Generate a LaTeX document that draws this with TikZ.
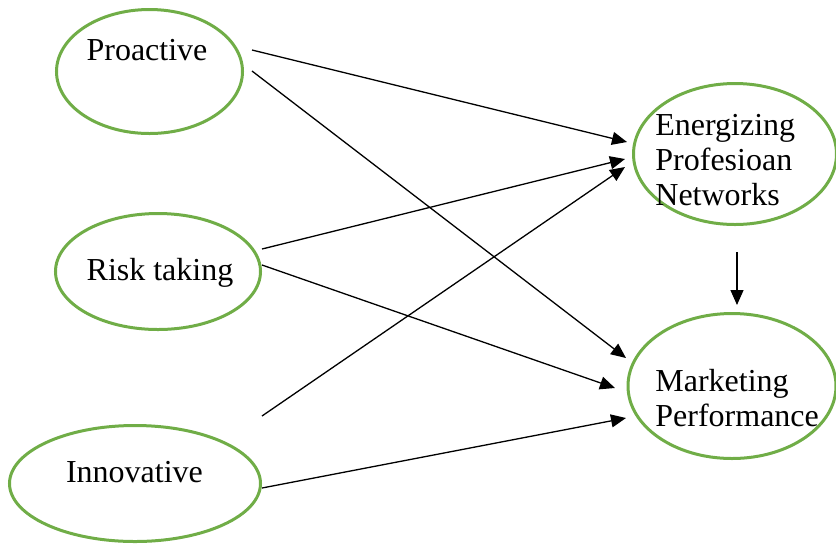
\documentclass[tikz,border=0pt]{standalone}
\usepackage{fontspec}
\setmainfont{Liberation Serif}
\usetikzlibrary{shapes.geometric}
\usetikzlibrary{arrows.meta}
\definecolor{ovalgreen}{RGB}{112,173,71}

\begin{document}
\begin{tikzpicture}[x=0.5pt,y=-0.5pt,
	oval/.style={draw=ovalgreen,line width=1.5pt,ellipse,inner sep=0pt},
	lbl/.style={inner sep=0pt,font=\fontsize{16}{17.5}\selectfont},
	link/.style={line width=0.65pt,-{Triangle[length=7.5pt,width=6.5pt]}}]
	\useasboundingbox (0,0) rectangle (836,543);
	\node[oval,minimum width=93pt,minimum height=62pt] (proactive) at (149.5,71.5) {};
	\node[oval,minimum width=102.5pt,minimum height=58pt] (risk) at (158,271.5) {};
	\node[oval,minimum width=125.5pt,minimum height=58pt] (innov) at (135,483.5) {};
	\node[oval,minimum width=101.5pt,minimum height=70.5pt] (energ) at (735,154) {};
	\node[oval,minimum width=104pt,minimum height=72.5pt] (mkt) at (732,386) {};
	\node[lbl,anchor=base] (proactivetxt) at (147,60) {Proactive};
	\node[lbl,anchor=base] (risktxt) at (160,280) {Risk taking};
	\node[lbl,anchor=base] (innovtxt) at (134.5,482) {Innovative};
	\node[lbl,anchor=base west,align=left] (energtxt) at (655,205) {Energizing\\Profesioan\\Networks};
	\node[lbl,anchor=base west,align=left] (mkttxt) at (655,426) {Marketing\\Performance};
	\coordinate (pa) at (252,50);
	\coordinate (pb) at (252,71);
	\coordinate (ra) at (262,249);
	\coordinate (rb) at (262,265);
	\coordinate (ia) at (262,416);
	\coordinate (ib) at (262,488);
	\coordinate (ea) at (627,142);
	\coordinate (eb) at (625,159);
	\coordinate (ec) at (625,167);
	\coordinate (ed) at (737,252);
	\coordinate (ma) at (626,358);
	\coordinate (mb) at (615,388);
	\coordinate (mc) at (626,418);
	\coordinate (md) at (737,305);
	\draw[link] (pa) -- (ea);
	\draw[link] (pb) -- (ma);
	\draw[link] (ra) -- (eb);
	\draw[link] (rb) -- (mb);
	\draw[link] (ia) -- (ec);
	\draw[link] (ib) -- (mc);
	\draw[link] (ed) -- (md);
\end{tikzpicture}
\end{document}
